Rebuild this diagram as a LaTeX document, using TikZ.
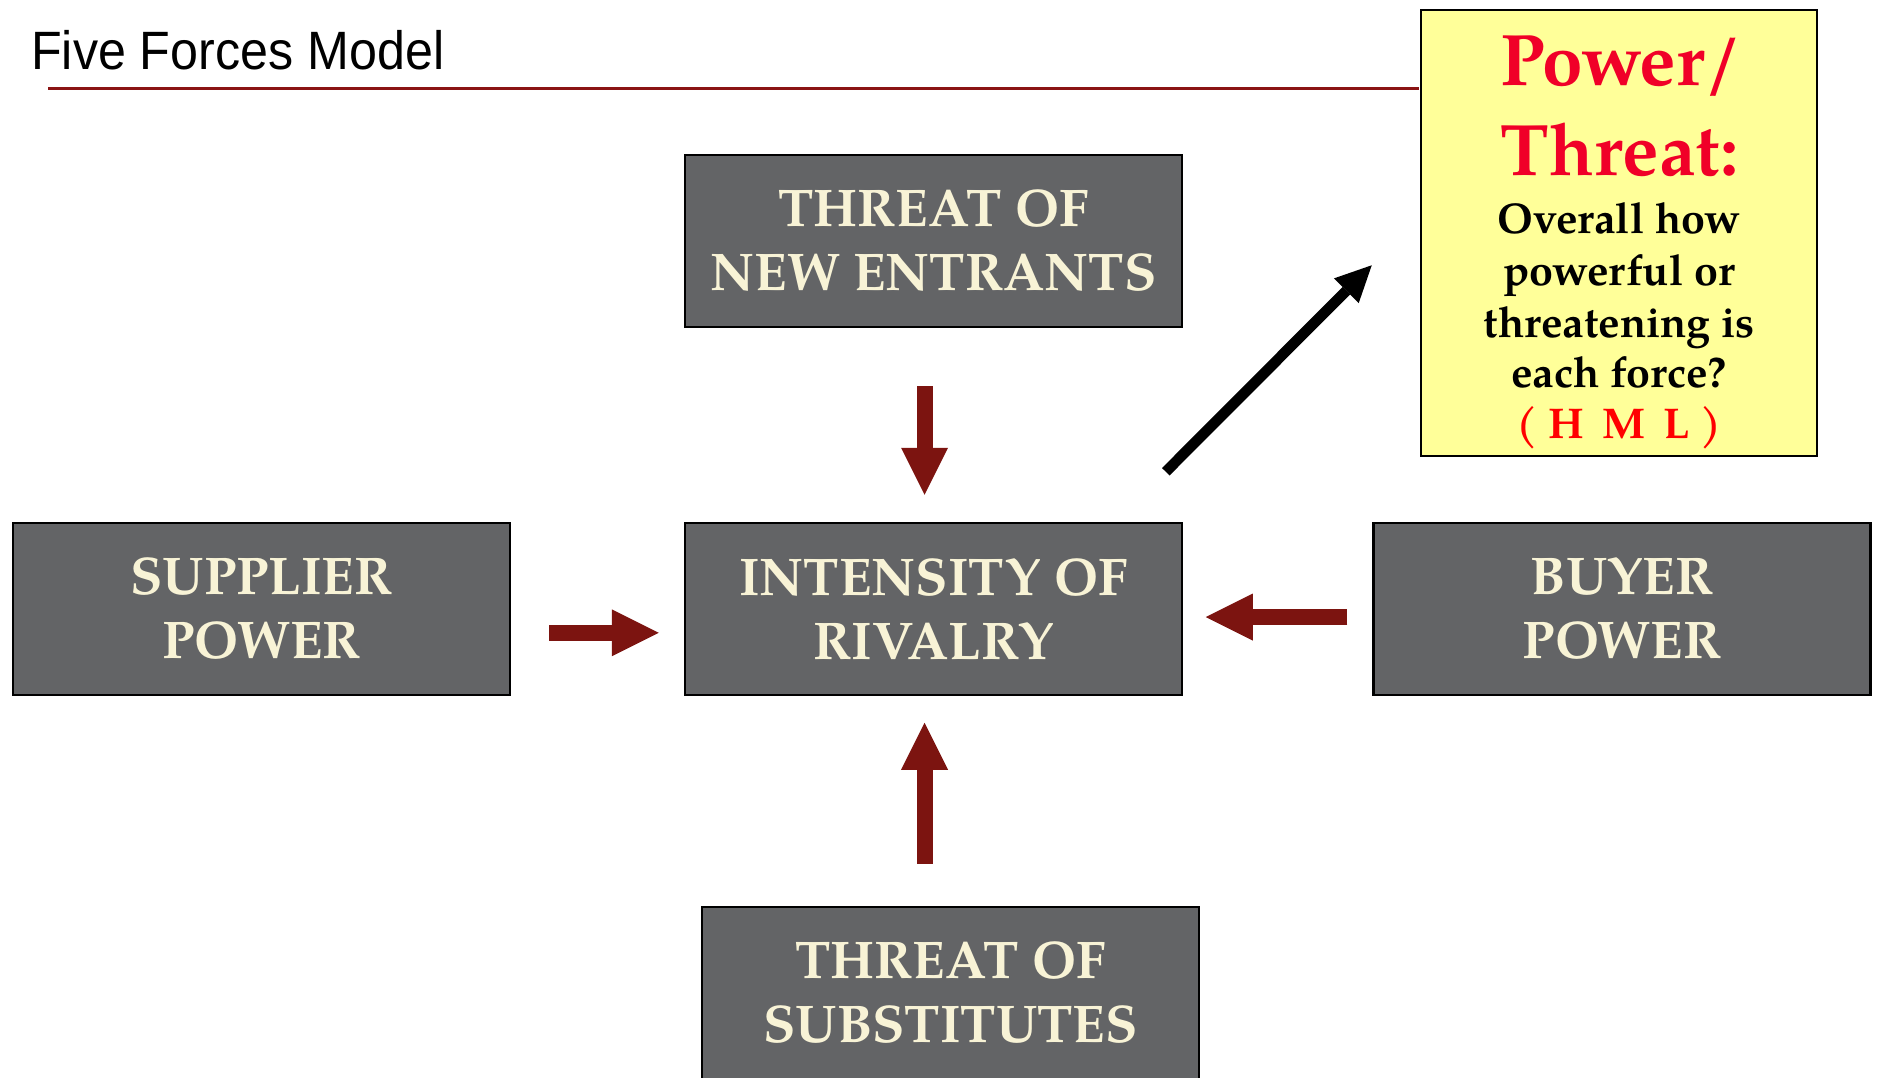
\documentclass[tikz,border=0pt]{standalone}
\usepackage{fontspec}
\usetikzlibrary{arrows.meta,calc}
\newfontfamily\palfont{texgyrepagella}[Extension=.otf, UprightFont=*-regular, BoldFont=*-bold, ItalicFont=*-italic, BoldItalicFont=*-bolditalic]
\newfontfamily\titlefont{Liberation Sans}[FakeStretch=0.93]
\definecolor{boxgray}{RGB}{99,100,102}
\definecolor{cream}{RGB}{248,243,214}
\definecolor{rulered}{RGB}{138,20,20}
\definecolor{forcered}{RGB}{124,20,16}
\definecolor{notefill}{RGB}{255,255,153}
\definecolor{headred}{RGB}{240,0,40}
\definecolor{hmlred}{RGB}{255,0,0}
\begin{document}
\begin{tikzpicture}[x=1pt,y=-1pt,
  force/.style={draw=black, line width=2.5pt, fill=boxgray, text=cream, inner sep=0pt,
    minimum width=497pt, minimum height=172pt, align=center,
    font=\palfont\bfseries\fontsize{53pt}{64pt}\selectfont},
  notebox/.style={draw=black, line width=2.5pt, fill=notefill, inner sep=0pt,
    minimum width=396pt, minimum height=446pt},
  headline/.style={anchor=base, inner sep=0pt, text=headred,
    font=\palfont\bfseries\fontsize{73pt}{80pt}\selectfont},
  bodyline/.style={anchor=base, inner sep=0pt, text=black,
    font=\palfont\bfseries\fontsize{43pt}{50pt}\selectfont},
  push/.style={draw=forcered, line width=16pt,
    -{Triangle[length=47pt,width=47pt,line width=0pt]}},
  outlook/.style={draw=black, line width=10.6pt,
    -{Triangle[length=36pt,width=35pt,line width=0pt]}}]
\useasboundingbox (0,0) rectangle (1879,1077);
\clip (0,0) rectangle (1879,1077);

% heading
\node[anchor=base west, inner sep=0pt, font=\titlefont\fontsize{54pt}{60pt}\selectfont]
  (title) at (31,69) {Five Forces Model};

% note box on the right
\node[notebox] (pt) at (1619,233) {};
\coordinate (rulestart) at (48,88.7);
\draw[rulered, line width=3.5pt, shorten >=1.25pt] (rulestart) -- (rulestart -| pt.west);

\node[headline] (pt1) at (1621,85)  {Power/};
\node[headline] (pt2) at (1620,175) {Threat:};
\node[bodyline] (pt3) at (1619,233) {Overall how};
\node[bodyline] (pt4) at (1619,285) {powerful or};
\node[bodyline] (pt5) at (1619,337) {threatening is};
\node[bodyline] (pt6) at (1619,387) {each force?};
\node[bodyline, text=hmlred] (pt7) at (1619,438) {( H \,M \,L )};

% the five forces
\node[force] (ne) at (933.5,241) {THREAT OF\\NEW ENTRANTS};
\node[force] (ir) at (933.5,609) {INTENSITY OF\\RIVALRY};
\node[force] (sp) at (261.5,609) {SUPPLIER\\POWER};
\node[force] (bp) at (1622,609)  {BUYER\\POWER};
\node[force] (ts) at (950.5,993) {THREAT OF\\SUBSTITUTES};

% pressures on rivalry
\draw[push] ([shift={(-9pt,-58pt)}]ne.south) -- ([shift={(-9pt,27pt)}]ir.north);
\draw[push] ([shift={(-26pt,42pt)}]ts.north) -- ([shift={(-9pt,-26.5pt)}]ir.south);
\draw[push] ([shift={(38pt,-23.8pt)}]sp.east) -- ([shift={(-25pt,-23.8pt)}]ir.west);
\draw[push] ([shift={(-25pt,-8pt)}]bp.west) -- ([shift={(22.5pt,-8pt)}]ir.east);

% overall assessment
\draw[outlook] ([shift={(-17.5pt,50pt)}]ir.north east) -- ([shift={(-48pt,192pt)}]pt.south west);
\end{tikzpicture}
\end{document}
